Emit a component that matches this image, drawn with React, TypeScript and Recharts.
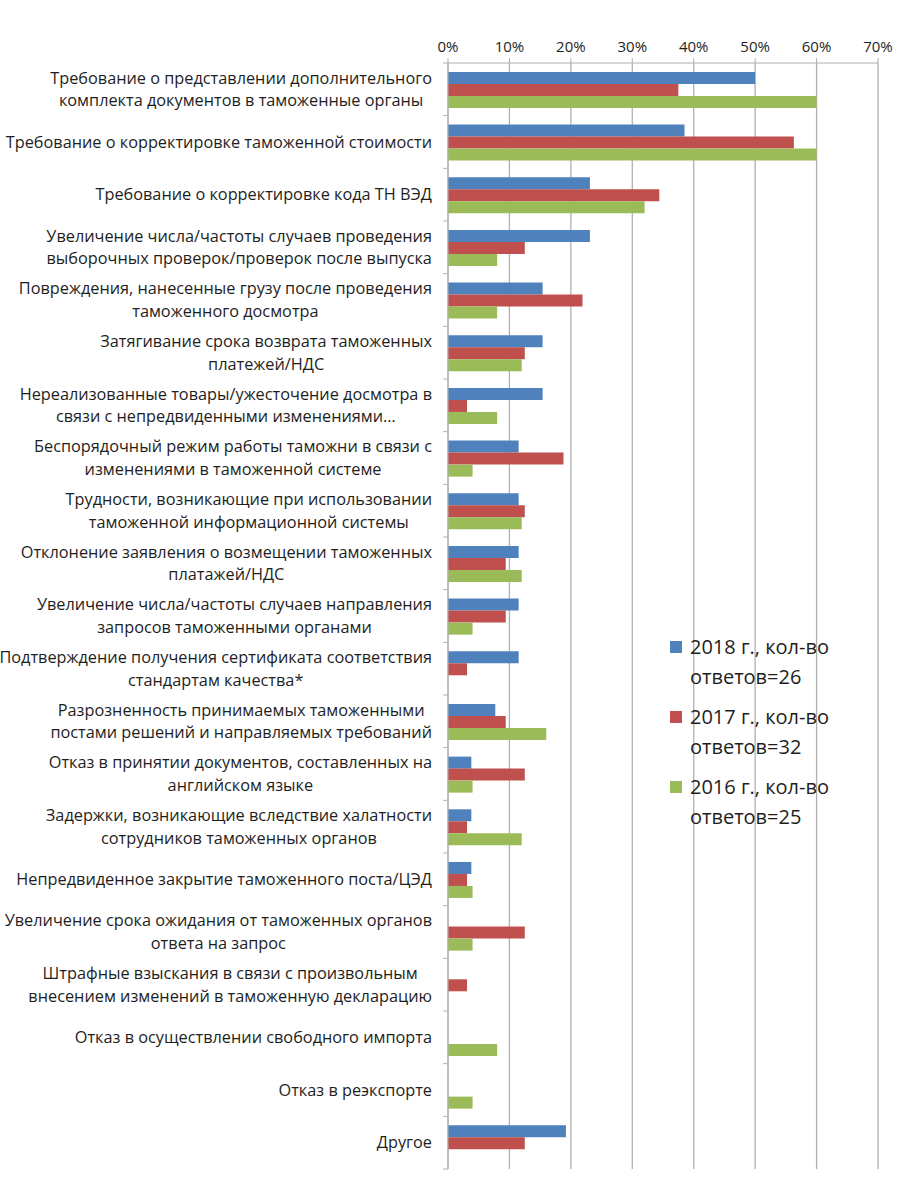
import { BarChart, Bar, XAxis, YAxis, CartesianGrid, Legend } from 'recharts';

const CATEGORIES = [
  'Требование о представлении дополнительного\nкомплекта документов в таможенные органы',
  'Требование о корректировке таможенной стоимости',
  'Требование о корректировке кода ТН ВЭД',
  'Увеличение числа/частоты случаев проведения\nвыборочных проверок/проверок после выпуска',
  'Повреждения, нанесенные грузу после проведения\nтаможенного досмотра',
  'Затягивание срока возврата таможенных\nплатежей/НДС',
  'Нереализованные товары/ужесточение досмотра в\nсвязи с непредвиденными изменениями…',
  'Беспорядочный режим работы таможни в связи с\nизменениями в таможенной системе',
  'Трудности, возникающие при использовании\nтаможенной информационной системы',
  'Отклонение заявления о возмещении таможенных\nплатажей/НДС',
  'Увеличение числа/частоты случаев направления\nзапросов таможенными органами',
  'Подтверждение получения сертификата соответствия\nстандартам качества*',
  'Разрозненность принимаемых таможенными\nпостами решений и направляемых требований',
  'Отказ в принятии документов, составленных на\nанглийском языке',
  'Задержки, возникающие вследствие халатности\nсотрудников таможенных органов',
  'Непредвиденное закрытие таможенного поста/ЦЭД',
  'Увеличение срока ожидания от таможенных органов\nответа на запрос',
  'Штрафные взыскания в связи с произвольным\nвнесением изменений в таможенную декларацию',
  'Отказ в осуществлении свободного импорта',
  'Отказ в реэкспорте',
  'Другое',
];

const Y2018 = [50, 38.5, 23.1, 23.1, 15.4, 15.4, 15.4, 11.5, 11.5, 11.5, 11.5, 11.5, 7.7, 3.8, 3.8, 3.8, 0, 0, 0, 0, 19.2];
const Y2017 = [37.5, 56.3, 34.4, 12.5, 21.9, 12.5, 3.1, 18.8, 12.5, 9.4, 9.4, 3.1, 9.4, 12.5, 3.1, 3.1, 12.5, 3.1, 0, 0, 12.5];
const Y2016 = [60, 60, 32, 8, 8, 12, 8, 4, 12, 12, 4, 0, 16, 4, 12, 4, 4, 0, 8, 4, 0];

const SERIES_NAMES = ['2018 г., кол-во ответов=26', '2017 г., кол-во ответов=32', '2016 г., кол-во ответов=25'];
const X_TICKS = [0, 10, 20, 30, 40, 50, 60, 70];

const COLORS = ['#4F81BD', '#C0504D', '#9BBB59'];
const FONT = '"Open Sans", sans-serif';
const LABEL_FS = 16.3;
const TEXT = '#1e1e1e';
const GRID = '#b0b0b0';

const W = 900;
const H = 1184;
const MARGIN = { top: 23, right: 22, bottom: 15, left: 0 };
const X_AXIS_H = 40;
const Y_AXIS_W = 448;
const LABEL_GAP = 16;

const data = CATEGORIES.map((name, i) => ({
  name,
  y2018: Y2018[i],
  y2017: Y2017[i],
  y2016: Y2016[i],
}));

let ctx: CanvasRenderingContext2D | null = null;
function textWidth(s: string, size: number) {
  if (!ctx) ctx = document.createElement('canvas').getContext('2d');
  if (!ctx) return s.length * size * 0.55;
  ctx.font = `${size}px ${FONT}`;
  return ctx.measureText(s).width;
}

function CategoryTick(props: any) {
  const { x, y, payload, index } = props;
  const lines: string[] = String(payload.value).split('\n');
  const block = Math.max(...lines.map((l) => textWidth(l, LABEL_FS)));
  const cx = x - block / 2;
  const lh = 22.5;
  const y0 = y - ((lines.length - 1) * lh) / 2;
  const step = (H - MARGIN.top - MARGIN.bottom - X_AXIS_H) / CATEGORIES.length;
  const axisX = x + LABEL_GAP;
  return (
    <g>
      <text textAnchor="middle" fontSize={LABEL_FS} fontFamily={FONT} fill={TEXT}>
        {lines.map((l, i) => (
          <tspan key={i} x={cx} y={y0 + i * lh} dy="0.35em">
            {l}
          </tspan>
        ))}
      </text>
      <line x1={axisX - 5} x2={axisX} y1={y - step / 2} y2={y - step / 2} stroke={GRID} />
      {index === CATEGORIES.length - 1 && (
        <line x1={axisX - 5} x2={axisX} y1={y + step / 2} y2={y + step / 2} stroke={GRID} />
      )}
    </g>
  );
}

function LegendBox() {
  return (
    <div style={{ fontFamily: FONT, fontSize: 20, color: TEXT, lineHeight: '30px' }}>
      {SERIES_NAMES.map((n, i) => (
        <div key={n} style={{ display: 'flex', alignItems: 'flex-start', marginBottom: 10 }}>
          <span
            style={{
              display: 'inline-block',
              width: 12,
              height: 12,
              background: COLORS[i],
              marginTop: 9,
              marginRight: 8,
              flex: 'none',
            }}
          />
          <span style={{ width: 170 }}>{n}</span>
        </div>
      ))}
    </div>
  );
}

export default function App() {
  return (
    <div style={{ position: 'absolute', left: 0, top: 0, background: '#fff' }}>
      <BarChart
        width={W}
        height={H}
        data={data}
        layout="vertical"
        margin={MARGIN}
        barCategoryGap="17%"
        barGap={0}
      >
        <CartesianGrid horizontal={false} stroke={GRID} strokeWidth={1.3} />
        <XAxis
          type="number"
          orientation="top"
          domain={[0, 70]}
          ticks={X_TICKS}
          tickFormatter={(v: number) => `${v}%`}
          height={X_AXIS_H}
          tickSize={5}
          tickMargin={6}
          axisLine={{ stroke: GRID }}
          tickLine={{ stroke: GRID }}
          tick={{ fontSize: 15, fontFamily: FONT, fill: TEXT }}
          interval={0}
        />
        <YAxis
          type="category"
          dataKey="name"
          width={Y_AXIS_W}
          tickSize={0}
          tickMargin={LABEL_GAP}
          axisLine={{ stroke: GRID }}
          tickLine={false}
          tick={<CategoryTick />}
          interval={0}
        />
        <Bar dataKey="y2018" name={SERIES_NAMES[0]} fill={COLORS[0]} isAnimationActive={false} />
        <Bar dataKey="y2017" name={SERIES_NAMES[1]} fill={COLORS[1]} isAnimationActive={false} />
        <Bar dataKey="y2016" name={SERIES_NAMES[2]} fill={COLORS[2]} isAnimationActive={false} />
        <Legend
          layout="horizontal"
          verticalAlign="middle"
          content={() => <LegendBox />}
          wrapperStyle={{ position: 'absolute', left: 670, top: 632, width: 220 }}
        />
      </BarChart>
    </div>
  );
}
